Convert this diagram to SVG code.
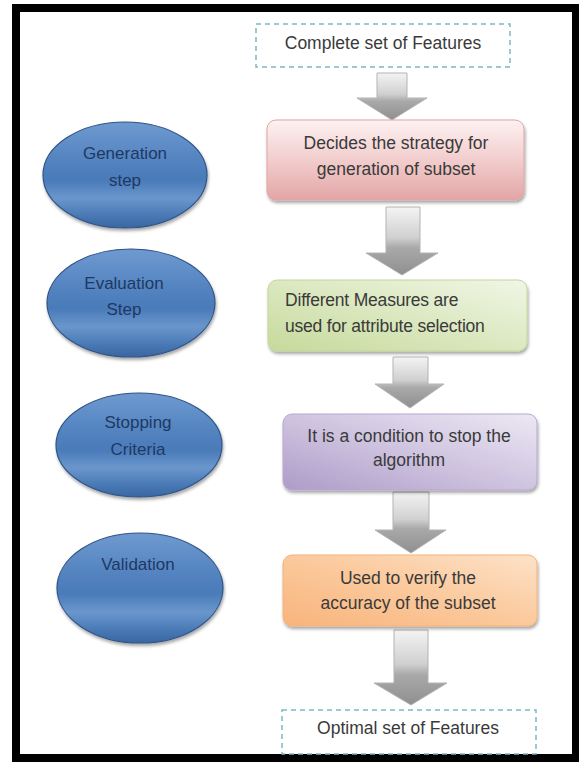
<svg xmlns="http://www.w3.org/2000/svg" width="579" height="762" viewBox="0 0 579 762">
  <defs>
    <style>
      .frame { fill: #ffffff; stroke: #000000; stroke-width: 8; }
      .ell { stroke: #2f5487; stroke-width: 1.2; filter: url(#shadow); }
      .ellText { font-family: "Liberation Sans", Arial, sans-serif; font-size: 17px; fill: #1f3864; text-anchor: middle; }
      .box { stroke-width: 1; filter: url(#shadow); }
      .boxText { font-family: "Liberation Sans", Arial, sans-serif; font-size: 17.5px; fill: #3a3a3a; text-anchor: middle; }
      .boxTextL { font-family: "Liberation Sans", Arial, sans-serif; font-size: 17.5px; fill: #3a3a3a; text-anchor: start; letter-spacing: -0.2px; }
      .dash { fill: #ffffff; stroke: #7db7c9; stroke-width: 1.5; stroke-dasharray: 5 4; }
      .arrow { fill: url(#gArrow); stroke: #b3b3b3; stroke-width: 1; }
    </style>
    <filter id="shadow" x="-10%" y="-10%" width="125%" height="130%">
      <feDropShadow dx="1" dy="2.5" stdDeviation="1.5" flood-color="#000000" flood-opacity="0.35"/>
    </filter>
    <linearGradient id="gEll" x1="0" y1="0" x2="0" y2="1">
      <stop offset="0" stop-color="#6f9ad0"/>
      <stop offset="0.35" stop-color="#5484c0"/>
      <stop offset="0.55" stop-color="#4a7bb9"/>
      <stop offset="0.72" stop-color="#6a96cc"/>
      <stop offset="0.9" stop-color="#4676b2"/>
      <stop offset="1" stop-color="#3b67a0"/>
    </linearGradient>
    <linearGradient id="gPink" x1="0" y1="0" x2="0" y2="1">
      <stop offset="0" stop-color="#fdf2f2"/>
      <stop offset="0.55" stop-color="#f1c9c9"/>
      <stop offset="1" stop-color="#e3a5a5"/>
    </linearGradient>
    <linearGradient id="gGreen" x1="0" y1="1" x2="1" y2="0">
      <stop offset="0" stop-color="#c6da9b"/>
      <stop offset="0.5" stop-color="#dbe8c0"/>
      <stop offset="1" stop-color="#f1f6e6"/>
    </linearGradient>
    <linearGradient id="gPurple" x1="0" y1="1" x2="1" y2="0">
      <stop offset="0" stop-color="#ad9cc8"/>
      <stop offset="0.5" stop-color="#cfc4e0"/>
      <stop offset="1" stop-color="#ece8f3"/>
    </linearGradient>
    <linearGradient id="gOrange" x1="0" y1="1" x2="1" y2="0">
      <stop offset="0" stop-color="#f8b47c"/>
      <stop offset="0.5" stop-color="#fbc99c"/>
      <stop offset="1" stop-color="#fde2c8"/>
    </linearGradient>
    <linearGradient id="gArrow" x1="0" y1="0" x2="0" y2="1">
      <stop offset="0" stop-color="#f4f4f4"/>
      <stop offset="0.45" stop-color="#d0d0d0"/>
      <stop offset="0.6" stop-color="#a9a9a9"/>
      <stop offset="1" stop-color="#8f8f8f"/>
    </linearGradient>
  </defs>

  <rect width="579" height="762" fill="#ffffff"/>
  <rect class="frame" x="16" y="8" width="560" height="750"/>

  <g id="connectors">
    <path class="arrow" d="M377,73 H407 V98 H427 L392,120 L357,98 H377 Z"/>
    <path class="arrow" d="M386,207 H420 V253 H438 L402,275 L366,253 H386 Z"/>
    <path class="arrow" d="M393,357 H428 V384 H444 L410,408 L375,384 H393 Z"/>
    <path class="arrow" d="M393,492 H429 V530 H446 L411,553 L375,530 H393 Z"/>
    <path class="arrow" d="M394,630 H428 V683 H447 L411,705 L374,683 H394 Z"/>
  </g>

  <g id="complete">
    <rect class="dash" x="256" y="24" width="254" height="43"/>
    <text class="boxText" x="383" y="49">Complete set of Features</text>
  </g>

  <g id="generation-step">
    <ellipse class="ell" fill="url(#gEll)" cx="125" cy="175" rx="82" ry="53"/>
    <text class="ellText" x="125" y="159">Generation</text>
    <text class="ellText" x="125" y="186">step</text>
  </g>

  <g id="evaluation-step">
    <ellipse class="ell" fill="url(#gEll)" cx="131" cy="303" rx="84" ry="54"/>
    <text class="ellText" x="124" y="289">Evaluation</text>
    <text class="ellText" x="124" y="315">Step</text>
  </g>

  <g id="stopping-criteria">
    <ellipse class="ell" fill="url(#gEll)" cx="139" cy="445" rx="83" ry="52"/>
    <text class="ellText" x="138" y="428">Stopping</text>
    <text class="ellText" x="138" y="455">Criteria</text>
  </g>

  <g id="validation">
    <ellipse class="ell" fill="url(#gEll)" cx="140" cy="588" rx="83" ry="55"/>
    <text class="ellText" x="138" y="570">Validation</text>
  </g>

  <g id="generation-box">
    <rect class="box" fill="url(#gPink)" stroke="#e1a3a3" x="267" y="120" width="257" height="80" rx="9"/>
    <text class="boxText" x="396" y="149">Decides the strategy for</text>
    <text class="boxText" x="396" y="175">generation of subset</text>
  </g>

  <g id="evaluation-box">
    <rect class="box" fill="url(#gGreen)" stroke="#c3d69b" x="268" y="280" width="259" height="71" rx="9"/>
    <text class="boxTextL" x="285" y="306">Different Measures are</text>
    <text class="boxTextL" x="285" y="332">used for attribute selection</text>
  </g>

  <g id="stopping-box">
    <rect class="box" fill="url(#gPurple)" stroke="#b7a9cf" x="283" y="414" width="254" height="76" rx="9"/>
    <text class="boxText" x="409" y="442">It is a condition to stop the</text>
    <text class="boxText" x="409" y="466">algorithm</text>
  </g>

  <g id="validation-box">
    <rect class="box" fill="url(#gOrange)" stroke="#f6b27a" x="283" y="555" width="254" height="71" rx="9"/>
    <text class="boxText" x="408" y="584">Used to verify the</text>
    <text class="boxText" x="408" y="609">accuracy of the subset</text>
  </g>

  <g id="optimal">
    <rect class="dash" x="282" y="710" width="254" height="44"/>
    <text class="boxText" x="408" y="734">Optimal set of Features</text>
  </g>
</svg>
